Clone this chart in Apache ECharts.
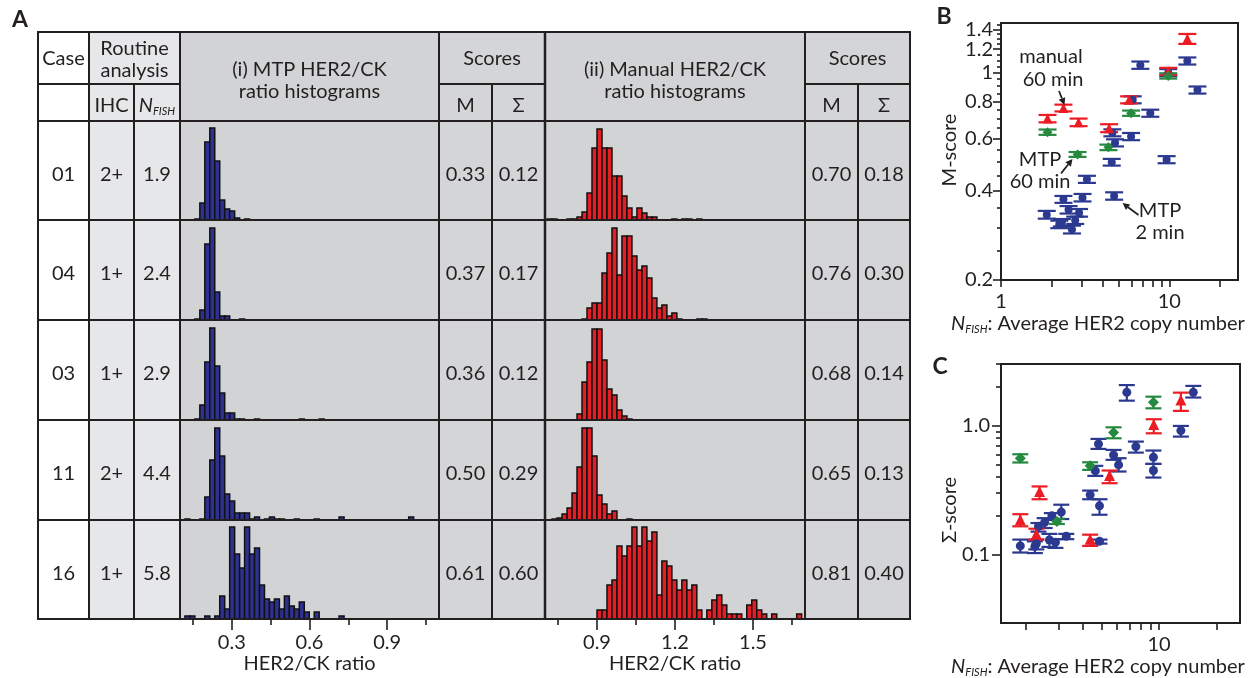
<!DOCTYPE html>
<html>
<head>
<meta charset="utf-8">
<script src="https://cdn.jsdelivr.net/npm/echarts@6/dist/echarts.min.js"></script>
<style>
  html, body { margin: 0; padding: 0; background: #fff; }
  #main { width: 1255px; height: 678px; }
</style>
</head>
<body>
<div id="main"></div>
<script>
// table columns
var cases = ['01', '04', '03', '11', '16'];
var ihc = ['2+', '1+', '1+', '2+', '1+'];
var nfish = ['1.9', '2.4', '2.9', '4.4', '5.8'];
var mtpM = ['0.33', '0.37', '0.36', '0.50', '0.61'];
var mtpS = ['0.12', '0.17', '0.12', '0.29', '0.60'];
var manM = ['0.70', '0.76', '0.68', '0.65', '0.81'];
var manS = ['0.18', '0.30', '0.14', '0.13', '0.40'];

// histogram bar heights, one value per bin starting at mtpStart / manStart
var BIN = 0.0192;
var mtpStart = 0.119;
var manStart = 0.708;
var mtp01 = [0, 0, 1, 17, 78, 92, 59, 20, 11, 9, 2, 0, 1];
var mtp04 = [0, 0, 1, 10, 76, 92, 28, 4, 4, 0, 0, 1];
var mtp03 = [0, 0, 1, 15, 58, 92, 54, 27, 7, 7, 1, 1, 0, 0, 1, 0, 0, 0, 0, 0, 0, 0, 0, 1, 0, 0, 0, 1];
var mtp11 = [1, 0, 0, 1, 23, 60, 92, 64, 26, 19, 7, 7, 7, 1, 3, 0, 1, 3, 1, 1, 0, 0, 1, 0, 0, 0, 1, 0, 0, 0, 0, 3,
             0, 0, 0, 0, 0, 0, 0, 0, 0, 0, 0, 0, 0, 3];
var mtp16 = [3, 3, 0, 0, 3, 0, 3, 23, 10, 92, 65, 51, 92, 65, 71, 34, 20, 17, 20, 10, 23, 13, 10, 17, 7, 0, 7,
             0, 0, 0, 0, 3];
var man01 = [1, 1, 0, 0, 1, 1, 3, 8, 27, 72, 91, 72, 72, 44, 44, 24, 12, 3, 12, 7, 3, 3, 0, 0, 0, 1, 0, 1, 1, 0, 1];
var man04 = [0, 0, 0, 0, 0, 0, 0, 1, 12, 17, 17, 47, 67, 92, 45, 84, 84, 64, 50, 54, 42, 22, 12, 15, 4, 7, 1,
             0, 0, 0, 1, 1];
var man03 = [0, 0, 0, 0, 0, 0, 6, 38, 58, 91, 91, 60, 31, 25, 10, 4, 1];
var man11 = [0, 1, 2, 6, 12, 27, 53, 92, 92, 64, 25, 16, 6, 9, 0, 0, 1];
var man16 = [0, 0, 0, 0, 0, 0, 0, 0, 0, 0, 9, 9, 34, 39, 73, 63, 73, 92, 73, 92, 78, 87, 24, 58, 53, 39, 29, 39,
             29, 34, 9, 0, 9, 19, 24, 14, 5, 5, 5, 0, 14, 19, 9, 5, 0, 5, 0, 0, 0, 0, 5];
var mtpTicks = [0.3, 0.6, 0.9];
var mtpMinor = [0.15, 0.45, 0.75, 1.05];
var manTicks = [0.9, 1.2, 1.5];
var manMinor = [0.75, 1.05, 1.35, 1.65];

// panel B: M-score vs N_FISH
var bBlueX = [1.87, 2.35, 2.22, 2.30, 2.52, 2.64, 2.76, 2.91, 3.05, 3.24, 4.55, 4.70, 4.59, 4.76, 5.93, 6.06, 6.73, 7.71, 9.64, 9.86, 12.8, 14.7];
var bBlueY = [0.332, 0.374, 0.308, 0.312, 0.345, 0.296, 0.318, 0.337, 0.379, 0.437, 0.499, 0.384, 0.627, 0.580, 0.609, 0.81, 1.06, 0.73, 0.509, 1.00, 1.095, 0.874];
var bBlueErr = [0.010, 0.010, 0.009, 0.009, 0.010, 0.009, 0.009, 0.010, 0.011, 0.012, 0.013, 0.011, 0.017, 0.016, 0.017, 0.022, 0.03, 0.02, 0.014, 0.028, 0.03, 0.024];
var bRedX = [1.89, 2.35, 2.89, 4.39, 5.77, 9.86, 12.8];
var bRedY = [0.70, 0.76, 0.68, 0.65, 0.81, 1.01, 1.30];
var bRedErr = [0.02, 0.02, 0.02, 0.02, 0.022, 0.028, 0.05];
var bGreenX = [1.89, 2.85, 4.35, 5.93, 9.86];
var bGreenY = [0.63, 0.53, 0.56, 0.73, 0.975];
var bGreenErr = [0.013, 0.01, 0.012, 0.015, 0.02];

// panel C: Sigma-score vs N_FISH
var cBlueX = [1.88, 2.24, 2.28, 2.34, 2.52, 2.75, 2.67, 2.87, 3.08, 3.27, 4.36, 4.64, 4.82, 4.88, 4.88, 5.78, 6.14, 6.78, 7.56, 9.34, 9.34, 13.0, 15.1];
var cBlueY = [0.117, 0.116, 0.122, 0.166, 0.178, 0.200, 0.130, 0.125, 0.214, 0.139, 0.291, 0.446, 0.720, 0.239, 0.127, 0.593, 0.496, 1.81, 0.688, 0.569, 0.449, 0.915, 1.81];
var cBlueLo = [0.104, 0.103, 0.110, 0.151, 0.161, 0.186, 0.115, 0.113, 0.189, 0.132, 0.269, 0.408, 0.66, 0.204, 0.122, 0.543, 0.441, 1.56, 0.618, 0.505, 0.396, 0.822, 1.65];
var cBlueHi = [0.131, 0.127, 0.131, 0.176, 0.192, 0.210, 0.145, 0.132, 0.244, 0.145, 0.314, 0.488, 0.789, 0.269, 0.131, 0.648, 0.559, 2.06, 0.752, 0.641, 0.505, 0.994, 2.03];
var cRedX = [1.88, 2.37, 2.28, 4.36, 5.51, 9.38, 13.0];
var cRedY = [0.187, 0.309, 0.145, 0.132, 0.41, 1.02, 1.58];
var cRedLo = [0.166, 0.269, 0.131, 0.117, 0.358, 0.872, 1.30];
var cRedHi = [0.206, 0.338, 0.159, 0.143, 0.449, 1.12, 1.80];
var cGreenX = [1.88, 2.92, 4.36, 5.78, 9.34];
var cGreenY = [0.559, 0.181, 0.488, 0.883, 1.515];
var cGreenLo = [0.518, 0.173, 0.454, 0.798, 1.361];
var cGreenHi = [0.60, 0.19, 0.52, 0.97, 1.675];

var bYTicks = [0.2, 0.4, 0.6, 0.8, 1, 1.2, 1.4];
var bYMinor = [0.25, 0.3, 0.35, 0.45, 0.5, 0.55, 0.65, 0.7, 0.75, 0.85, 0.9, 0.95, 1.05, 1.1, 1.15, 1.25, 1.3, 1.35, 1.45];
var bXTicks = [1, 2, 3, 4, 5, 6, 7, 8, 9, 10, 20];
var bXLabels = [1, 10];
var cYTicks = [0.1, 1];
var cYMinor = [0.2, 0.3, 0.4, 0.5, 0.6, 0.7, 0.8, 0.9, 2, 3];
var cXTicks = [2, 3, 4, 5, 6, 7, 8, 9, 10, 20];
var cXLabels = [10];

var FONT = 'Lato';
var INK = '#231f20';
var BLUE = '#2b3990', RED = '#ed1c24', GREEN = '#25893f';
var HBLUE = '#2e3192', HRED = '#e31e24';

var colX = [38, 89, 134, 180, 439, 492, 545, 805, 858, 910];
var rowY = [32, 84, 121, 220, 320, 420, 520, 619];

var chart = echarts.init(document.getElementById('main'));

function fmt(v) { return String(+(+v).toFixed(2)); }

// ---------- table (graphic) ----------
var g = [];
function box(x0, y0, x1, y1, fill) {
    g.push({type: 'rect', z: 0, silent: true, shape: {x: x0, y: y0, width: x1 - x0, height: y1 - y0}, style: {fill: fill}});
}
function ln(x0, y0, x1, y1, w) {
    g.push({type: 'line', z: 20, silent: true, shape: {x1: x0, y1: y0, x2: x1, y2: y1}, style: {stroke: INK, lineWidth: w || 2}});
}
function txt(x, y, s, extra) {
    var st = {text: s, x: x, y: y, fill: INK, font: '20px ' + FONT, align: 'center', verticalAlign: 'middle'};
    if (extra) for (var k in extra) st[k] = extra[k];
    g.push({type: 'text', z: 30, silent: true, style: st});
}
var subRich = {
    n: {fontStyle: 'italic', fontSize: 20, fontFamily: FONT, fill: INK, color: INK},
    s: {fontStyle: 'italic', fontSize: 11, fontFamily: FONT, fill: INK, color: INK, verticalAlign: 'bottom', padding: [10, 0, 0, 0]},
    t: {fontSize: 20, fontFamily: FONT, fill: INK, color: INK}
};

var top0 = rowY[0], bot0 = rowY[7];
box(colX[0], top0, colX[1], bot0, '#ffffff');
box(colX[1], top0, colX[3], bot0, '#e6e7e8');
box(colX[3], top0, colX[4], bot0, '#d1d3d4');
box(colX[4], top0, colX[6], bot0, '#d4d5d7');
box(colX[6], top0, colX[7], bot0, '#d1d3d4');
box(colX[7], top0, colX[9], bot0, '#d4d5d7');

// vertical lines
[0, 1, 3, 4, 6, 7, 9].forEach(function (c) { ln(colX[c], top0 - 1, colX[c], bot0 + 1, c === 6 ? 2.5 : 2); });
[2, 5, 8].forEach(function (c) { ln(colX[c], rowY[1], colX[c], bot0, 2); });
// horizontal lines
ln(colX[0] - 1, top0, colX[9] + 1, top0);
ln(colX[0], rowY[1], colX[3], rowY[1]);
ln(colX[4], rowY[1], colX[6], rowY[1]);
ln(colX[7], rowY[1], colX[9], rowY[1]);
for (var r = 2; r < rowY.length; r++) ln(colX[0] - 1, rowY[r], colX[9] + 1, rowY[r]);

txt(63.5, 59, 'Case');
txt(134.5, 49, 'Routine');
txt(134.5, 71, 'analysis');
txt(111.5, 106, 'IHC');
g.push({type: 'text', z: 30, silent: true, style: {text: '{n|N}{s|FISH}', rich: subRich, x: 157, y: 106, align: 'center', verticalAlign: 'middle'}});
txt(309.5, 70, '(i) MTP HER2/CK');
txt(309.5, 92, 'ratio histograms');
txt(492, 59, 'Scores');
txt(465.5, 106, 'M');
txt(518.5, 106, 'Σ');
txt(675, 70, '(ii) Manual HER2/CK');
txt(675, 92, 'ratio histograms');
txt(857.5, 59, 'Scores');
txt(831.5, 106, 'M');
txt(884, 106, 'Σ');
for (var i = 0; i < cases.length; i++) {
    var cy = (rowY[i + 2] + rowY[i + 3]) / 2 + 4;
    txt(63.5, cy, cases[i]);
    txt(111.5, cy, ihc[i]);
    txt(157, cy, nfish[i]);
    txt(465.5, cy, mtpM[i]);
    txt(518.5, cy, mtpS[i]);
    txt(831.5, cy, manM[i]);
    txt(884, cy, manS[i]);
}

// panel letters
txt(20, 20, 'A', {font: 'bold 23px ' + FONT});
txt(944, 17, 'B', {font: 'bold 23px ' + FONT});
txt(940, 367, 'C', {font: 'bold 23px ' + FONT});

// panel B annotations
txt(1051, 57, 'manual');
txt(1053, 80, '60 min');
txt(1040, 160, 'MTP');
txt(1040, 182, '60 min');
txt(1160, 211, 'MTP');
txt(1160, 233, '2 min');
function arrow(x0, y0, x1, y1) {
    var dx = x1 - x0, dy = y1 - y0, L = Math.sqrt(dx * dx + dy * dy);
    var ux = dx / L, uy = dy / L, hl = 7, hw = 3.5;
    var bx = x1 - ux * hl, by = y1 - uy * hl;
    ln(x0, y0, bx, by, 1.8);
    g.push({type: 'polygon', z: 20, silent: true, shape: {points: [[x1, y1], [bx - uy * hw, by + ux * hw], [bx + uy * hw, by - ux * hw]]}, style: {fill: INK}});
}
arrow(1059, 91, 1064.5, 105);
arrow(1061, 173.5, 1072.5, 159);
arrow(1138.5, 215, 1122.5, 203);

// axis titles
function axisTitle(x, y) {
    g.push({type: 'text', z: 30, silent: true, style: {text: '{n|N}{s|FISH}{t|: Average HER2 copy number}', rich: subRich, x: x, y: y, align: 'center', verticalAlign: 'middle'}});
}
axisTitle(1098, 324);
axisTitle(1098, 667);
g.push({type: 'text', z: 30, silent: true, x: 950, y: 150, rotation: Math.PI / 2,
    style: {text: 'M-score', x: 0, y: 0, fill: INK, font: '20px ' + FONT, align: 'center', verticalAlign: 'middle'}});
g.push({type: 'text', z: 30, silent: true, x: 950, y: 510, rotation: Math.PI / 2,
    style: {text: 'Σ-score', x: 0, y: 0, fill: INK, font: '20px ' + FONT, align: 'center', verticalAlign: 'middle'}});

// ---------- histograms ----------
var grids = [], xAxes = [], yAxes = [], series = [];
var mtpHists = [mtp01, mtp04, mtp03, mtp11, mtp16];
var manHists = [man01, man04, man03, man11, man16];

function histData(counts, start) {
    var out = [];
    for (var k = 0; k < counts.length; k++) {
        if (counts[k] > 0) out.push([start + k * BIN, counts[k]]);
    }
    return out;
}

function histSeries(idx, counts, start, color) {
    return {
        type: 'custom',
        xAxisIndex: idx,
        yAxisIndex: idx,
        clip: true,
        z: 5,
        encode: {x: 0, y: 1},
        data: histData(counts, start),
        renderItem: function (params, api) {
            var a = api.coord([api.value(0), api.value(1)]);
            var b = api.coord([api.value(0) + BIN, 0]);
            return {
                type: 'rect',
                shape: {x: a[0], y: a[1], width: b[0] - a[0], height: b[1] - a[1]},
                style: {fill: color, stroke: '#111', lineWidth: 1.5}
            };
        }
    };
}

function addHist(idx, left, width, row, counts, start, min, max, color) {
    var t = rowY[row + 2], b = rowY[row + 3];
    grids.push({left: left, top: t, width: width, height: b - t, outerBoundsMode: 'none'});
    yAxes.push({type: 'value', gridIndex: idx, min: 0, max: b - t, show: false});
    xAxes.push({type: 'value', gridIndex: idx, position: 'bottom', min: min, max: max, show: false});
    series.push(histSeries(idx, counts, start, color));
}

for (var h = 0; h < 5; h++) addHist(h, colX[3], colX[4] - colX[3], h, mtpHists[h], mtpStart, 0.1, 1.1, HBLUE);
for (var h2 = 0; h2 < 5; h2++) addHist(5 + h2, colX[6], colX[7] - colX[6], h2, manHists[h2], manStart, 0.7, 1.7, HRED);

function bottomAxis(a, majors) {
    a.show = true;
    a.axisLine = {show: false};
    a.splitLine = {show: false};
    a.axisTick = {show: true, customValues: majors, length: 11, lineStyle: {color: INK, width: 1.6}};
    a.axisLabel = {show: true, customValues: majors, margin: 14, color: INK, fontSize: 20, fontFamily: FONT, formatter: fmt};
    a.name = 'HER2/CK ratio';
    a.nameLocation = 'middle';
    a.nameGap = 35;
    a.nameTextStyle = {color: INK, fontSize: 20, fontFamily: FONT};
}
bottomAxis(xAxes[4], mtpTicks);
bottomAxis(xAxes[9], manTicks);
function minorAxis(gi, min, max, vals) {
    return {type: 'value', gridIndex: gi, position: 'bottom', offset: 0, min: min, max: max, axisLine: {show: false}, splitLine: {show: false},
        axisLabel: {show: false}, axisTick: {show: true, customValues: vals, length: 6, lineStyle: {color: INK, width: 1.6}}};
}
xAxes.push(minorAxis(4, 0.1, 1.1, mtpMinor));   // 10
xAxes.push(minorAxis(9, 0.7, 1.7, manMinor));   // 11

// ---------- scatter panels ----------
grids.push({left: 1001, top: 23, width: 237, height: 257, show: true, borderColor: INK, borderWidth: 2, backgroundColor: 'transparent', outerBoundsMode: 'none'}); // 10
grids.push({left: 1001, top: 364, width: 239, height: 259, show: true, borderColor: INK, borderWidth: 2, backgroundColor: 'transparent', outerBoundsMode: 'none'}); // 11

function logAxis(gi, pos, min, max, ticks, labels, tickLen, margin, formatter) {
    return {
        type: 'log', logBase: 10, gridIndex: gi, position: pos, offset: 0, min: min, max: max,
        axisLine: {show: false}, splitLine: {show: false}, minorTick: {show: false},
        axisTick: {show: true, customValues: ticks, length: tickLen, lineStyle: {color: INK, width: 1.6}},
        axisLabel: labels ? {show: true, customValues: labels, margin: margin, color: INK, fontSize: 20, fontFamily: FONT, formatter: formatter || fmt} : {show: false}
    };
}
xAxes.push(logAxis(10, 'bottom', 1, 25.6, bXTicks, bXLabels, 7, 12));          // 12
xAxes.push(logAxis(11, 'bottom', 1.49, 26.5, cXTicks, cXLabels, 7, 12));       // 13
yAxes.push(logAxis(10, 'left', 0.2, 1.47, bYTicks, bYTicks, 8, 8));            // 10
yAxes.push(logAxis(10, 'left', 0.2, 1.47, bYMinor, null, 4, 8));               // 11
yAxes.push(logAxis(11, 'left', 0.0296, 3.0, cYTicks, cYTicks, 9, 11, function (v) { return (+v).toFixed(1); })); // 12
yAxes.push(logAxis(11, 'left', 0.0296, 3.0, cYMinor, null, 5, 8));             // 13

function errSeries(xi, yi, xs, lo, hi, color, cap) {
    var data = [];
    for (var i = 0; i < xs.length; i++) data.push([xs[i], lo[i], hi[i]]);
    return {
        type: 'custom', xAxisIndex: xi, yAxisIndex: yi, z: 6,
        encode: {x: 0, y: [1, 2]},
        data: data,
        renderItem: function (params, api) {
            var a = api.coord([api.value(0), api.value(2)]);
            var b = api.coord([api.value(0), api.value(1)]);
            var st = {stroke: color, lineWidth: 2.2};
            return {type: 'group', children: [
                {type: 'line', shape: {x1: a[0], y1: a[1], x2: b[0], y2: b[1]}, style: st},
                {type: 'line', shape: {x1: a[0] - cap, y1: a[1], x2: a[0] + cap, y2: a[1]}, style: st},
                {type: 'line', shape: {x1: b[0] - cap, y1: b[1], x2: b[0] + cap, y2: b[1]}, style: st}
            ]};
        }
    };
}
function dotSeries(xi, yi, xs, ys, color, symbol, size) {
    var data = [];
    for (var i = 0; i < xs.length; i++) data.push([xs[i], ys[i]]);
    return {type: 'scatter', xAxisIndex: xi, yAxisIndex: yi, z: 7, symbol: symbol, symbolSize: size,
        itemStyle: {color: color, opacity: 1}, data: data, silent: true};
}
function pm(ys, err, sign) {
    return ys.map(function (y, i) { return y + sign * err[i]; });
}

// B
series.push(errSeries(12, 10, bBlueX, pm(bBlueY, bBlueErr, -1), pm(bBlueY, bBlueErr, 1), BLUE, 9));
series.push(dotSeries(12, 10, bBlueX, bBlueY, BLUE, 'circle', 8));
series.push(errSeries(12, 10, bRedX, pm(bRedY, bRedErr, -1), pm(bRedY, bRedErr, 1), RED, 9));
series.push(dotSeries(12, 10, bRedX, bRedY, RED, 'triangle', 10));
series.push(errSeries(12, 10, bGreenX, pm(bGreenY, bGreenErr, -1), pm(bGreenY, bGreenErr, 1), GREEN, 9));
series.push(dotSeries(12, 10, bGreenX, bGreenY, GREEN, 'diamond', 10));
// C
series.push(errSeries(13, 12, cBlueX, cBlueLo, cBlueHi, BLUE, 8));
series.push(dotSeries(13, 12, cBlueX, cBlueY, BLUE, 'circle', 9));
series.push(errSeries(13, 12, cRedX, cRedLo, cRedHi, RED, 8));
series.push(dotSeries(13, 12, cRedX, cRedY, RED, 'triangle', 11));
series.push(errSeries(13, 12, cGreenX, cGreenLo, cGreenHi, GREEN, 8));
series.push(dotSeries(13, 12, cGreenX, cGreenY, GREEN, 'diamond', 11));

chart.setOption({
    animation: false,
    backgroundColor: '#ffffff',
    textStyle: {fontFamily: FONT},
    graphic: {elements: g},
    grid: grids,
    xAxis: xAxes,
    yAxis: yAxes,
    series: series
});
</script>
</body>
</html>
